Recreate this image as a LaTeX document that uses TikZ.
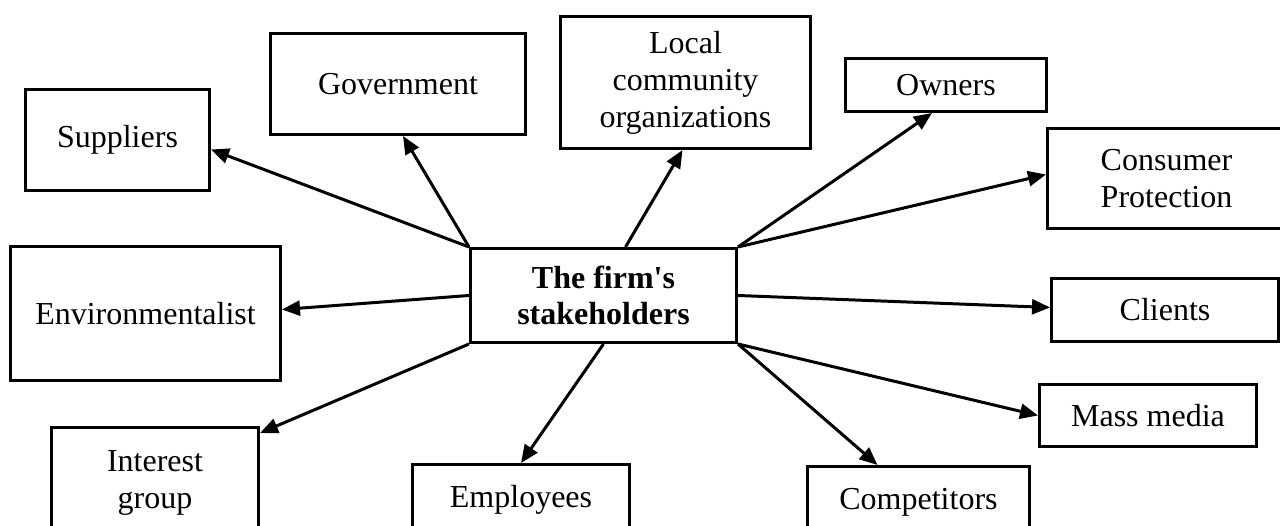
\documentclass[tikz,border=0pt]{standalone}
\usepackage{fontspec}
\setmainfont{Liberation Serif}
\usetikzlibrary{arrows.meta}
\tikzset{
  box/.style={draw, line width=3pt, rectangle, inner sep=0pt, anchor=north west,
    align=center, font=\fontsize{32}{37}\selectfont},
  centrebox/.style={box, font=\fontsize{32}{36}\selectfont\bfseries},
  arr/.style={line width=3pt, -{Triangle[length=18pt,width=15pt]}},
}
\begin{document}
\begin{tikzpicture}[x=1pt,y=-1pt]
\useasboundingbox (0,0) rectangle (1280,526);
\clip (0,0) rectangle (1280,526);
\node[box, minimum width=184pt, minimum height=101pt] (sup) at (24,88) {Suppliers};
\node[box, minimum width=255pt, minimum height=101pt] (gov) at (269,32) {Government};
\node[box, minimum width=250pt, minimum height=132pt] (loc) at (559,15) {Local\\community\\organizations};
\node[box, minimum width=201pt, minimum height=53pt] (own) at (844,57) {Owners};
\node[box, minimum width=238pt, minimum height=100pt] (cp) at (1046,127) {Consumer\\Protection};
\node[centrebox, minimum width=266pt, minimum height=94pt] (c) at (469,247) {The firm\textquotesingle s\\stakeholders};
\node[box, minimum width=270pt, minimum height=134pt] (env) at (9,245) {Environmentalist};
\node[box, minimum width=227pt, minimum height=63pt] (cli) at (1050,277) {Clients};
\node[box, minimum width=217pt, minimum height=62pt] (mm) at (1038,383) {Mass media};
\node[box, minimum width=207pt, minimum height=110pt] (int) at (50,426) {Interest\\group};
\node[box, minimum width=217pt, minimum height=70pt] (emp) at (411,463) {Employees};
\node[box, minimum width=222pt, minimum height=72pt] (com) at (806,465) {Competitors};

\draw[arr] (c.north west) -- ([yshift=-9.5pt]sup.east);
\draw[arr] (c.north west) -- ([xshift=5pt]gov.south);
\draw[arr] ([xshift=22pt]c.north) -- ([xshift=-3pt]loc.south);
\draw[arr] (c.north east) -- ([xshift=-14pt]own.south);
\draw[arr] (c.north east) -- ([yshift=4pt]cp.west);
\draw[arr] (c.west) -- ([yshift=4pt]env.east);
\draw[arr] (c.east) -- ([yshift=2.5pt]cli.west);
\draw[arr] (c.south west) -- ([yshift=-7pt]int.north east);
\draw[arr] (c.south) -- (emp.north);
\draw[arr] (c.south east) -- (mm.west);
\draw[arr] (c.south east) -- ([xshift=-41pt]com.north);
\end{tikzpicture}
\end{document}
